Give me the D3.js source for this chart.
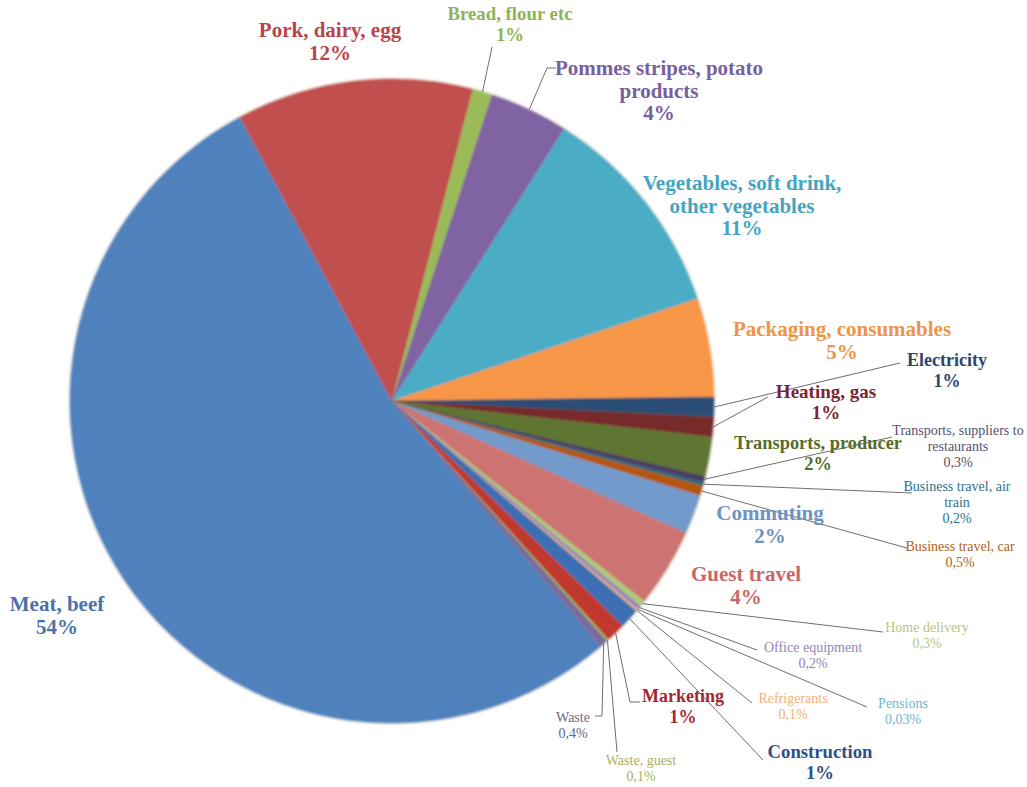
<!DOCTYPE html>
<html>
<head>
<meta charset="utf-8">
<script src="https://cdn.jsdelivr.net/npm/d3@7"></script>
<style>
  html, body { margin: 0; padding: 0; background: #ffffff; }
  svg { display: block; }
  text { font-family: "Liberation Serif", "Times New Roman", serif; }
</style>
</head>
<body>
<svg id="chart" width="1027" height="787"></svg>
<script>
// Carbon footprint shares by source (percent)
const categories = [
  "Meat, beef", "Pork, dairy, egg", "Bread, flour etc", "Pommes stripes, potato products",
  "Vegetables, soft drink, other vegetables", "Packaging, consumables", "Electricity",
  "Heating, gas", "Transports, producer", "Transports, suppliers to restaurants",
  "Business travel, air train", "Business travel, car", "Commuting", "Guest travel",
  "Home delivery", "Office equipment", "Pensions", "Refrigerants", "Construction",
  "Marketing", "Waste, guest", "Waste"
];
const values = [54, 12, 1, 4, 11, 5, 1, 1, 2, 0.3, 0.2, 0.5, 2, 4, 0.3, 0.2, 0.03, 0.1, 1, 1, 0.1, 0.4];
const valueLabels = ["54%", "12%", "1%", "4%", "11%", "5%", "1%", "1%", "2%", "0,3%", "0,2%", "0,5%",
  "2%", "4%", "0,3%", "0,2%", "0,03%", "0,1%", "1%", "1%", "0,1%", "0,4%"];
// Category names as they wrap on the chart
const nameLines = [
  ["Meat, beef"], ["Pork, dairy, egg"], ["Bread, flour etc"], ["Pommes stripes, potato", "products"],
  ["Vegetables, soft drink,", "other vegetables"], ["Packaging, consumables"], ["Electricity"],
  ["Heating, gas"], ["Transports, producer"], ["Transports, suppliers to", "restaurants"],
  ["Business travel, air", "train"], ["Business travel, car"], ["Commuting"], ["Guest travel"],
  ["Home delivery"], ["Office equipment"], ["Pensions"], ["Refrigerants"], ["Construction"],
  ["Marketing"], ["Waste, guest"], ["Waste"]
];

const sliceColors = [
  "#4f81bd", "#c0504d", "#9bbb59", "#8064a2", "#4bacc6", "#f79646", "#2c4d75",
  "#772c2a", "#5f7530", "#4d3b62", "#276a7c", "#b65708", "#729aca", "#cd7371",
  "#afc97a", "#9983b5", "#6fbdd1", "#f9ab6b", "#3a6eb2", "#c0392f", "#9bbb59", "#7b6a9a"
];
const textColors = [
  "#4a72aa", "#b8454a", "#8fb255", "#77609c", "#46a4be", "#ef9448", "#2c4570",
  "#7a2630", "#566c2a", "#55506a", "#2f6f88", "#b0611a", "#6d93c4", "#c86668",
  "#b9c47e", "#8f86b8", "#6ab8cf", "#f4b073", "#2f4f8a", "#a5262e", "#a8b160", "#6c6880"
];

// Label placement: x = centre of text block, y = first baseline,
// size = bold type size (plain small type when absent), pts = leader-line points after the slice edge
const layout = [
  { x: 57,  y: 611, size: 21 },
  { x: 330, y: 37,  size: 21 },
  { x: 510, y: 20,  size: 18.8, pts: [[492, 47]] },
  { x: 659, y: 75,  size: 21, pts: [[547, 68], [556, 68]] },
  { x: 742, y: 190, size: 21 },
  { x: 842, y: 336, size: 21 },
  { x: 947, y: 366, size: 18, pts: [[900, 363]] },
  { x: 826, y: 398, size: 19, pts: [[768, 397]] },
  { x: 818, y: 449, size: 18.4 },
  { x: 958, y: 435, pts: [[892, 437]] },
  { x: 957, y: 491, pts: [[912, 493]] },
  { x: 960, y: 551, pts: [[907, 548]] },
  { x: 770, y: 520, size: 21 },
  { x: 746, y: 581, size: 21 },
  { x: 927, y: 632, pts: [[883, 632]] },
  { x: 813, y: 652, pts: [[757, 650]] },
  { x: 903, y: 708, pts: [[867, 707]] },
  { x: 793, y: 703, pts: [[752, 703]] },
  { x: 820, y: 758, size: 18.7, pts: [[763, 760]] },
  { x: 683, y: 702, size: 18, pts: [[630, 702], [640, 702]] },
  { x: 641, y: 765, pts: [[617, 752]] },
  { x: 573, y: 722, pts: [[602, 716], [595, 716]] }
];

const cx = 392, cy = 401, radius = 322;
const startDeg = 139.6;
const smallSize = 14, smallLead = 16;

const svg = d3.select("#chart");

const defs = svg.append("defs");
defs.append("filter").attr("id", "soft")
  .attr("x", "-5%").attr("y", "-5%").attr("width", "110%").attr("height", "110%")
  .append("feGaussianBlur").attr("stdDeviation", 0.9);

const rows = categories.map((c, i) => ({ name: c, value: values[i], i }));

const pie = d3.pie()
  .sort(null)
  .value(d => d.value)
  .startAngle(startDeg * Math.PI / 180)
  .endAngle((startDeg + 360) * Math.PI / 180);

const arcs = pie(rows);
const arc = d3.arc().innerRadius(0).outerRadius(radius);
const edge = d3.arc().innerRadius(radius).outerRadius(radius);

const g = svg.append("g").attr("transform", `translate(${cx},${cy})`);

// soft halo round the pie
g.append("circle").attr("r", radius + 2).attr("fill", "#f3ede6").attr("filter", "url(#soft)");

g.append("g").attr("filter", "url(#soft)")
  .selectAll("path")
  .data(arcs)
  .join("path")
  .attr("d", arc)
  .attr("fill", d => sliceColors[d.data.i])
  .attr("stroke", d => sliceColors[d.data.i])
  .attr("stroke-width", 0.4);

// leader lines
const line = d3.line();
const leaders = svg.append("g")
  .attr("fill", "none")
  .attr("stroke", "#6f6f6f")
  .attr("stroke-width", 1);

arcs.forEach(d => {
  const L = layout[d.data.i];
  if (!L.pts) return;
  const [ex, ey] = edge.centroid(d);
  const pts = [[cx + ex, cy + ey], ...L.pts];
  leaders.append("path").attr("d", line(pts));
});

// labels
const labels = svg.append("g").attr("text-anchor", "middle");
arcs.forEach(d => {
  const i = d.data.i;
  const L = layout[i];
  const big = !!L.size;
  const size = big ? L.size : smallSize;
  const lh = big ? Math.max(21, L.size + 1.5) : smallLead;
  const lines = nameLines[i].concat([valueLabels[i]]);
  const t = labels.append("text")
    .attr("x", L.x)
    .attr("y", L.y)
    .attr("fill", textColors[i])
    .attr("font-size", size)
    .attr("font-weight", big ? "bold" : "normal");
  lines.forEach((s, k) => {
    t.append("tspan").attr("x", L.x).attr("dy", k === 0 ? 0 : lh).text(s);
  });
});
</script>
</body>
</html>
